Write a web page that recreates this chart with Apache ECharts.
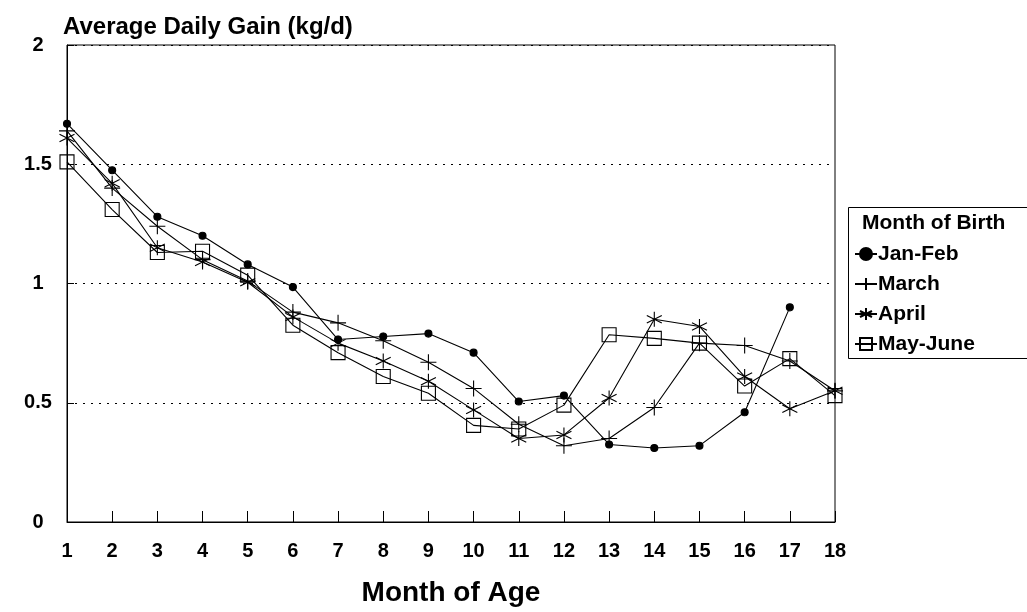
<!DOCTYPE html>
<html>
<head>
<meta charset="utf-8">
<script src="https://cdn.jsdelivr.net/npm/echarts@6/dist/echarts.min.js"></script>
<style>
  html, body { margin: 0; padding: 0; background: #fff; }
  #main { width: 1027px; height: 612px; }
</style>
</head>
<body>
<div id="main"></div>
<script>
// month of age on the x axis
var months = ['1','2','3','4','5','6','7','8','9','10','11','12','13','14','15','16','17','18'];
var yTicks = [0, 0.5, 1, 1.5, 2];

// average daily gain (kg/d), by month of birth
var janFeb  = [1.67, 1.475, 1.28, 1.20, 1.08, 0.985, 0.765, 0.778, 0.79, 0.71, 0.505, 0.53, 0.325, 0.31, 0.32, 0.46, 0.90, null];
var march   = [1.64, 1.40, 1.24, 1.10, 1.01, 0.88, 0.835, 0.76, 0.67, 0.56, 0.41, 0.32, 0.35, 0.48, 0.75, 0.74, 0.675, 0.55];
var april   = [1.61, 1.42, 1.15, 1.09, 1.005, 0.86, 0.75, 0.675, 0.59, 0.47, 0.35, 0.365, 0.52, 0.85, 0.82, 0.61, 0.475, 0.55];
var mayJune = [1.51, 1.31, 1.13, 1.135, 1.035, 0.825, 0.71, 0.61, 0.54, 0.405, 0.39, 0.49, 0.785, 0.77, 0.75, 0.57, 0.685, 0.53];

var FONT = 'Liberation Sans, Arial, sans-serif';

var myChart = echarts.init(document.getElementById('main'));

function lineSeries(name, data, symbol, size, fill) {
    return {
        name: name,
        type: 'line',
        data: data,
        symbol: symbol,
        symbolSize: size,
        showAllSymbol: true,
        lineStyle: { color: '#000', width: 1.1 },
        itemStyle: { color: fill, borderColor: '#000', borderWidth: 1.1 },
        emphasis: { disabled: true },
        animation: false
    };
}

var option = {
    backgroundColor: '#fff',
    title: {
        text: 'Average Daily Gain (kg/d)',
        left: 58,
        top: 10,
        textStyle: { fontFamily: FONT, fontSize: 24, fontWeight: 'bold', color: '#000' }
    },
    // legend frame runs off the right edge, heading sits inside it
    graphic: [{
        type: 'rect',
        shape: { x: 848.5, y: 207.5, width: 300, height: 151 },
        style: { fill: 'none', stroke: '#000', lineWidth: 1 },
        silent: true
    }, {
        type: 'text',
        left: 862,
        top: 213,
        style: { text: 'Month of Birth', fontFamily: FONT, fontSize: 21, fontWeight: 'bold', fill: '#000' }
    }],
    legend: {
        orient: 'vertical',
        left: 848,
        top: 207,
        padding: [36, 10, 5, 6],
        itemGap: 8,
        itemWidth: 22,
        itemHeight: 15,
        textStyle: { fontFamily: FONT, fontSize: 21, fontWeight: 'bold', color: '#000', lineHeight: 22, padding: [0, 0, 0, -4] },
        data: ['Jan-Feb', 'March', 'April', 'May-June']
    },
    grid: {
        left: 67,
        right: 192,
        top: 45,
        bottom: 88,
        show: true,
        borderColor: '#000',
        borderWidth: 1
    },
    xAxis: {
        type: 'category',
        data: months,
        boundaryGap: false,
        name: 'Month of Age',
        nameLocation: 'middle',
        nameGap: 57,
        nameTextStyle: { fontFamily: FONT, fontSize: 28, fontWeight: 'bold', color: '#000' },
        axisLine: { lineStyle: { color: '#000', width: 1 } },
        axisTick: { inside: true, length: 11, lineStyle: { color: '#000' }, interval: 0 },
        axisLabel: { interval: 0, margin: 19, fontFamily: FONT, fontSize: 20, fontWeight: 'bold', color: '#000' },
        splitLine: { show: false }
    },
    yAxis: {
        type: 'value',
        min: yTicks[0],
        max: yTicks[yTicks.length - 1],
        interval: 0.5,
        axisLine: { show: true, lineStyle: { color: '#000', width: 1 } },
        axisTick: { show: true, inside: true, length: 7, lineStyle: { color: '#000' } },
        axisLabel: {
            margin: 29, align: 'center',
            fontFamily: FONT, fontSize: 20, fontWeight: 'bold', color: '#000',
            formatter: function (v) { return String(v); }
        },
        splitLine: { show: true, lineStyle: { color: '#000', width: 1, type: [2, 6] } }
    },
    series: [
        lineSeries('Jan-Feb', janFeb, 'circle', 7, '#000'),
        lineSeries('March', march, 'path://M5,0L5,10M0,5L10,5', 16, 'transparent'),
        lineSeries('April', april, 'path://M5,0L5,10M0.67,2.5L9.33,7.5M0.67,7.5L9.33,2.5', 15, 'transparent'),
        lineSeries('May-June', mayJune, 'path://M0,0L10,0L10,10L0,10Z', 14, 'transparent')
    ]
};

myChart.setOption(option);
</script>
</body>
</html>
